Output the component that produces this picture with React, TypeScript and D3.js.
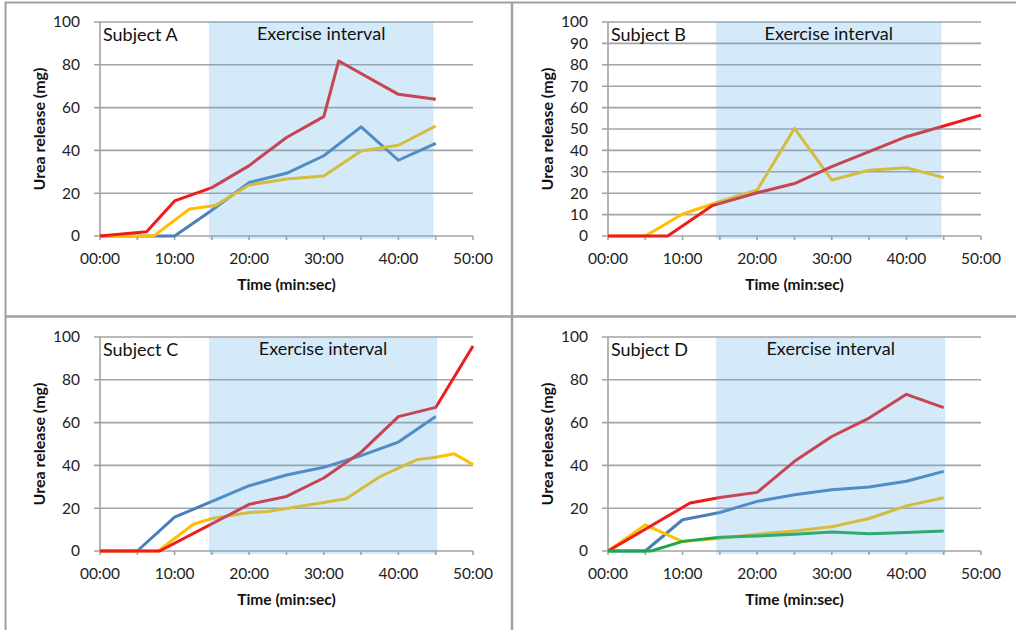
import React from 'react';
import * as d3 from 'd3';

type Pt = [number, number];

// Panel labels
const subjects = ['Subject A', 'Subject B', 'Subject C', 'Subject D'];
const shadeLabel = 'Exercise interval';
const xTitle = 'Time (min:sec)';
const yTitle = 'Urea release (mg)';

// x ticks (minutes)
const xTickValues = [0, 10, 20, 30, 40, 50];
const xMinorTicks = [0, 5, 10, 15, 20, 25, 30, 35, 40, 45, 50];
const yTicks20 = [0, 20, 40, 60, 80, 100];
const yTicks10 = [0, 10, 20, 30, 40, 50, 60, 70, 80, 90, 100];

// exercise interval (minutes) per subject
const shadeA: Pt = [14.6, 44.7];
const shadeB: Pt = [14.5, 44.7];
const shadeC: Pt = [14.6, 45.2];
const shadeD: Pt = [14.5, 45.2];

// Subject A
const aBlue: Pt[] = [[0, 0], [10, 0], [15, 12], [20, 25], [25, 29.3], [30, 37.5], [35, 51], [40, 35.4], [45, 43.3]];
const aYellow: Pt[] = [[0, 0], [7.2, 0], [12, 12.6], [15.5, 14.3], [20, 23.8], [25, 26.6], [30, 28], [35, 39.7], [40, 42.4], [45, 51.4]];
const aRed: Pt[] = [[0, 0], [6.25, 2], [10, 16.4], [15, 22.6], [20, 32.9], [25, 46], [30, 55.8], [32, 81.8], [40, 66.2], [45, 63.9]];

// Subject B
const bYellow: Pt[] = [[0, 0], [5, 0], [10, 10.3], [14.3, 15.3], [20, 21.5], [25, 50.3], [30, 26.2], [35, 30.7], [40, 31.9], [45, 27.3]];
const bRed: Pt[] = [[0, 0], [8, 0], [14, 14.2], [20, 20.2], [25, 24.5], [30, 32.4], [35, 39.4], [40, 46.4], [45, 51.4], [50, 56.5]];

// Subject C
const cBlue: Pt[] = [[0, 0], [5, 0], [10, 15.8], [20, 30.5], [25, 35.5], [30, 39.1], [35, 44.6], [40, 50.9], [45, 62.9]];
const cYellow: Pt[] = [[0, 0], [7.8, 0], [12.5, 12.5], [15, 15.2], [20, 18], [22.5, 18.5], [25, 19.9], [30, 22.7], [33, 24.4], [37.5, 34.7], [40, 38.7], [42.5, 42.7], [45, 43.8], [47.5, 45.4], [50, 40.4]];
const cRed: Pt[] = [[0, 0], [8, 0], [20, 21.8], [25, 25.5], [30, 34.1], [35, 46.2], [40, 62.8], [45, 67.1], [50, 95.8]];

// Subject D
const dBlue: Pt[] = [[0, 0], [5, 0], [10, 14.6], [15, 18], [20, 23.2], [25, 26.3], [30, 28.6], [35, 29.9], [40, 32.6], [45, 37.2]];
const dYellow: Pt[] = [[0, 0], [5, 12.2], [10, 4.4], [15, 6], [20, 7.8], [25, 9.4], [30, 11.3], [35, 15.2], [40, 21.1], [45, 24.9]];
const dRed: Pt[] = [[0, 0], [11, 22.4], [15, 25], [20, 27.4], [25, 41.9], [30, 53.5], [35, 62.1], [40, 73.2], [45, 67]];
const dGreen: Pt[] = [[0, 0], [5.8, 0], [10, 4.5], [15, 6.4], [20, 7], [25, 7.8], [30, 8.9], [35, 8.1], [40, 8.6], [45, 9.4]];

const BLUE = '#4a7ebb';
const YELLOW = '#ffc000';
const RED = '#ee1c1c';
const GREEN = '#1fa84a';

type Series = { data: Pt[]; color: string };
type PanelDef = { ox: number; oy: number; label: string; shade: Pt; yTicks: number[]; series: Series[] };

const panels: PanelDef[] = [
  { ox: 0, oy: 0, label: subjects[0], shade: shadeA, yTicks: yTicks20, series: [{ data: aBlue, color: BLUE }, { data: aYellow, color: YELLOW }, { data: aRed, color: RED }] },
  { ox: 508, oy: 0, label: subjects[1], shade: shadeB, yTicks: yTicks10, series: [{ data: bYellow, color: YELLOW }, { data: bRed, color: RED }] },
  { ox: 0, oy: 315, label: subjects[2], shade: shadeC, yTicks: yTicks20, series: [{ data: cBlue, color: BLUE }, { data: cYellow, color: YELLOW }, { data: cRed, color: RED }] },
  { ox: 508, oy: 315, label: subjects[3], shade: shadeD, yTicks: yTicks20, series: [{ data: dBlue, color: BLUE }, { data: dYellow, color: YELLOW }, { data: dRed, color: RED }, { data: dGreen, color: GREEN }] },
];

const FONT = 'Lato, "Noto Sans", sans-serif';
const GRID = '#a3a3a3';

const L = 100, T = 22, W = 373, H = 214;

const fmt = (m: number) => `${String(m).padStart(2, '0')}:00`;

function Panel({ p }: { p: PanelDef }) {
  const x = d3.scaleLinear().domain([0, 50]).range([L, L + W]);
  const y = d3.scaleLinear().domain([0, 100]).range([T + H, T]);
  const line = d3.line<Pt>().x((d) => x(d[0])).y((d) => y(d[1]));
  const sx0 = x(p.shade[0]);
  const sx1 = x(p.shade[1]);
  return (
    <g transform={`translate(${p.ox},${p.oy})`}>
      {p.yTicks.map((t) => (
        <line key={'g' + t} x1={L - 6} x2={L + W} y1={y(t)} y2={y(t)} stroke={GRID} strokeWidth={1.6} />
      ))}
      <line x1={L} x2={L} y1={T} y2={T + H} stroke={GRID} strokeWidth={1.6} />
      {xMinorTicks.map((t) => (
        <line key={'t' + t} x1={x(t)} x2={x(t)} y1={T + H} y2={T + H + 4} stroke={GRID} strokeWidth={1.6} />
      ))}
      {p.series.map((s, i) => (
        <path key={i} d={line(s.data) || ''} fill="none" stroke={s.color} strokeWidth={3} strokeLinejoin="round" />
      ))}
      <rect x={sx0} y={T} width={sx1 - sx0} height={H + 3} fill="rgb(97,178,228)" fillOpacity={0.27} />
      {p.yTicks.map((t) => (
        <text key={'y' + t} x={L - 20} y={y(t)} dy="0.35em" textAnchor="end" fontSize={15.5} fontFamily={FONT} fill="#222">{t}</text>
      ))}
      {xTickValues.map((t) => (
        <text key={'x' + t} x={x(t)} y={T + H + 28} textAnchor="middle" fontSize={15.5} fontFamily={FONT} fill="#222">{fmt(t)}</text>
      ))}
      <text x={L + 3} y={T + 18.5} fontSize={18} fontFamily={FONT} fill="#111">{p.label}</text>
      <text x={(sx0 + sx1) / 2} y={T + 18} textAnchor="middle" fontSize={18} fontFamily={FONT} fill="#111">{shadeLabel}</text>
      <text x={L + W / 2} y={T + H + 54} textAnchor="middle" fontSize={15.5} fontWeight="bold" fontFamily={FONT} fill="#111">{xTitle}</text>
      <text transform={`translate(${39},${T + H / 2}) rotate(-90)`} dy="0.35em" textAnchor="middle" fontSize={16} fontWeight="bold" fontFamily={FONT} fill="#111">{yTitle}</text>
    </g>
  );
}

export default function App() {
  return (
    <svg width={1016} height={630} style={{ position: 'absolute', left: 0, top: 0, display: 'block', background: '#fff' }}>
      <rect x={0} y={0} width={1016} height={630} fill="#fff" />
      {panels.map((p, i) => (
        <Panel key={i} p={p} />
      ))}
      <line x1={5} x2={1016} y1={2.5} y2={2.5} stroke="#a0a0a0" strokeWidth={2} />
      <line x1={5.5} x2={5.5} y1={2} y2={630} stroke="#a0a0a0" strokeWidth={2} />
      <line x1={512} x2={512} y1={2} y2={630} stroke="#a0a0a0" strokeWidth={2.5} />
      <line x1={5} x2={1016} y1={316.5} y2={316.5} stroke="#a0a0a0" strokeWidth={2.5} />
    </svg>
  );
}
